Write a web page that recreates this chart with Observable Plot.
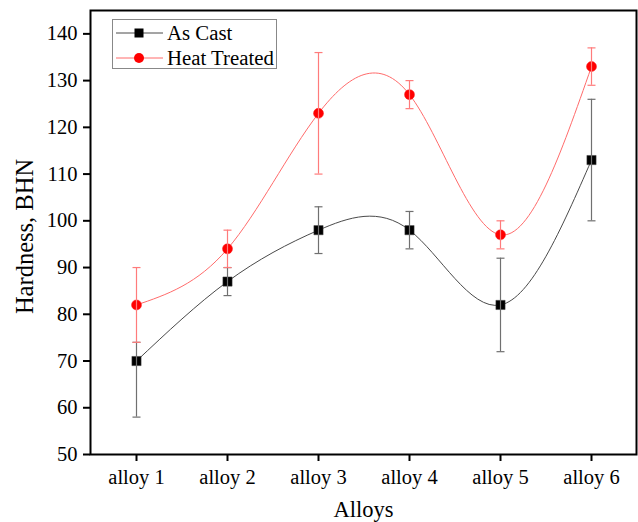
<!DOCTYPE html>
<html>
<head>
<meta charset="utf-8">
<script src="https://cdn.jsdelivr.net/npm/d3@7"></script>
<script src="https://cdn.jsdelivr.net/npm/@observablehq/plot@0.6"></script>
<style>
  html, body { margin: 0; padding: 0; background: #fff; }
  #wrap { position: relative; width: 638px; height: 522px; font-family: "Liberation Serif", "Times New Roman", serif; }
  #legend { position: absolute; left: 112px; top: 19px; width: 165px; height: 50px; border: 1px solid #888; background: #fff; box-sizing: border-box; }
  #legend svg { position: absolute; left: 0; top: 0; }
</style>
</head>
<body>
<div id="wrap"><div id="chart"></div><div id="legend"></div></div>
<script>
const alloys = ["alloy 1", "alloy 2", "alloy 3", "alloy 4", "alloy 5", "alloy 6"];
const asCast = [70, 87, 98, 98, 82, 113];
const asCastLow = [58, 84, 93, 94, 72, 100];
const asCastHigh = [74, 90, 103, 102, 92, 126];
const heatTreated = [82, 94, 123, 127, 97, 133];
const heatLow = [74, 90, 110, 124, 94, 129];
const heatHigh = [90, 98, 136, 130, 100, 137];
const yTicks = [50, 60, 70, 80, 90, 100, 110, 120, 130, 140];

const seriesNames = ["As Cast", "Heat Treated"];
const lineColors = { "As Cast": "#4a4a4a", "Heat Treated": "#ff6b6b" };
const errColors = { "As Cast": "#707070", "Heat Treated": "#ff7b7b" };

const rows = [];
alloys.forEach((a, i) => {
  rows.push({ alloy: a, series: "As Cast", v: asCast[i], lo: asCastLow[i], hi: asCastHigh[i] });
});
alloys.forEach((a, i) => {
  rows.push({ alloy: a, series: "Heat Treated", v: heatTreated[i], lo: heatLow[i], hi: heatHigh[i] });
});
const ac = rows.filter(d => d.series === "As Cast");
const ht = rows.filter(d => d.series === "Heat Treated");

const capSymbol = { draw(ctx, size) { ctx.moveTo(-4, 0); ctx.lineTo(4, 0); } };

const chart = Plot.plot({
  width: 638,
  height: 522,
  marginLeft: 90,
  marginTop: 10,
  marginRight: 2,
  marginBottom: 68,
  style: { fontFamily: "Liberation Serif, Times New Roman, serif", fontSize: "20.5px", color: "#000", background: "#fff" },
  x: { type: "point", domain: alloys, padding: 0.5, label: null },
  y: { domain: [50, 145], label: null },
  marks: [
    Plot.frame({ stroke: "#000", strokeWidth: 2 }),
    Plot.axisY({ ticks: yTicks, tickSize: 7, tickPadding: 6, strokeWidth: 2, fontSize: 20.5, label: null }),
    Plot.axisX({ tickSize: 7, tickPadding: 8, strokeWidth: 2, fontSize: 20.5, label: null }),
    Plot.text(["Hardness, BHN"], { frameAnchor: "left", textAnchor: "middle", dx: -65, dy: 4, rotate: -90, fontSize: 24.5, text: d => d }),
    Plot.text(["Alloys"], { frameAnchor: "bottom", dy: 62, fontSize: 22.5, text: d => d }),
    Plot.line(ac, { x: "alloy", y: "v", stroke: lineColors["As Cast"], strokeWidth: 1, curve: "natural" }),
    Plot.line(ht, { x: "alloy", y: "v", stroke: lineColors["Heat Treated"], strokeWidth: 1, curve: "natural" }),
    Plot.dot(ac, { x: "alloy", y: "v", symbol: "square", r: 5.2, fill: "#000", stroke: "#444", strokeWidth: 0.5 }),
    Plot.dot(ht, { x: "alloy", y: "v", symbol: "circle", r: 5, fill: "#ff0000", stroke: "#ff2020", strokeWidth: 0.5 }),
    Plot.ruleX(ac, { x: "alloy", y1: "lo", y2: "hi", stroke: errColors["As Cast"], strokeWidth: 1.2 }),
    Plot.ruleX(ht, { x: "alloy", y1: "lo", y2: "hi", stroke: errColors["Heat Treated"], strokeWidth: 1.2 }),
    Plot.dot(ac, { x: "alloy", y: "lo", symbol: capSymbol, stroke: errColors["As Cast"], fill: "none", strokeWidth: 1.2 }),
    Plot.dot(ac, { x: "alloy", y: "hi", symbol: capSymbol, stroke: errColors["As Cast"], fill: "none", strokeWidth: 1.2 }),
    Plot.dot(ht, { x: "alloy", y: "lo", symbol: capSymbol, stroke: errColors["Heat Treated"], fill: "none", strokeWidth: 1.2 }),
    Plot.dot(ht, { x: "alloy", y: "hi", symbol: capSymbol, stroke: errColors["Heat Treated"], fill: "none", strokeWidth: 1.2 })
  ]
});
document.getElementById("chart").appendChild(chart);

// Legend
const lg = d3.select("#legend").append("svg").attr("width", 165).attr("height", 50);
seriesNames.forEach((name, i) => {
  const y = 13 + i * 25;
  lg.append("line").attr("x1", 3).attr("x2", 50).attr("y1", y).attr("y2", y)
    .attr("stroke", lineColors[name]).attr("stroke-width", 1);
  if (i === 0) {
    lg.append("rect").attr("x", 26 - 4.5).attr("y", y - 4.5).attr("width", 9).attr("height", 9).attr("fill", "#000");
  } else {
    lg.append("circle").attr("cx", 26).attr("cy", y).attr("r", 5).attr("fill", "#ff0000");
  }
  lg.append("text").attr("x", 54).attr("y", y + 7).text(name)
    .attr("font-family", "Liberation Serif, Times New Roman, serif").attr("font-size", 20.8).attr("fill", "#000");
});
</script>
</body>
</html>
